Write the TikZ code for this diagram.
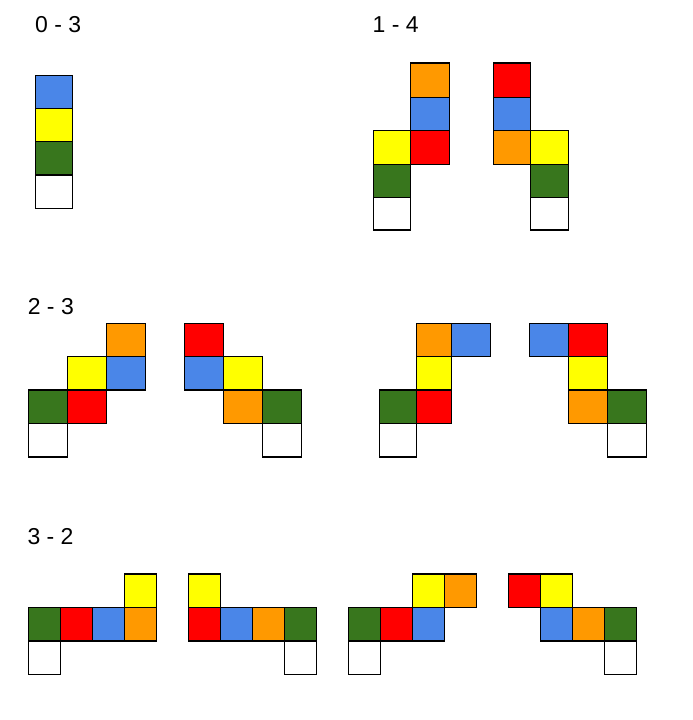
\documentclass[tikz,border=0pt]{standalone}
\usepackage{fontspec}
\setmainfont{Liberation Sans}
\definecolor{cblue}{HTML}{4A86E8}
\definecolor{cyellow}{HTML}{FFFF00}
\definecolor{cgreen}{HTML}{38761D}
\definecolor{cred}{HTML}{FF0000}
\definecolor{corange}{HTML}{FF9900}
\newcommand{\cellbox}[5]{\draw[cellstyle,fill=#5] (#1,#3) rectangle (#2,#4);}
\begin{document}
\begin{tikzpicture}[x=1pt,y=-1pt,
  cellstyle/.style={draw=black,line width=1.1pt,line join=miter},
  lbl/.style={anchor=base west,inner sep=0pt,font=\fontsize{23}{27}\selectfont}]
\useasboundingbox (0,0) rectangle (693,720);
\fill[white] (0,0) rectangle (693,720);
% labels
\node[lbl] (l03) at (35,32.3) {0 - 3};
\node[lbl] (l14) at (372.5,32.3) {1 - 4};
\node[lbl] (l23) at (27.6,314) {2 - 3};
\node[lbl] (l32) at (27.3,544) {3 - 2};
% Group 0-3
\cellbox{35.3}{72.3}{75.3}{108.3}{cblue}
\cellbox{35.3}{72.3}{108.3}{141.3}{cyellow}
\cellbox{35.3}{72.3}{141.3}{175}{cgreen}
\cellbox{35.3}{72.3}{175}{208.3}{white}
% Group 1-4 left
\cellbox{410.3}{449.3}{63}{97.3}{corange}
\cellbox{410.3}{449.3}{97.3}{130.3}{cblue}
\cellbox{410.3}{449.3}{130.3}{164.3}{cred}
\cellbox{373.3}{410.3}{130.3}{164.3}{cyellow}
\cellbox{373.3}{410.3}{164.3}{197.3}{cgreen}
\cellbox{373.3}{410.3}{197.3}{230}{white}
% Group 1-4 right
\cellbox{493.3}{530.3}{63}{97.3}{cred}
\cellbox{493.3}{530.3}{97.3}{130.3}{cblue}
\cellbox{493.3}{530.3}{130.3}{164.3}{corange}
\cellbox{530.3}{568.3}{130.3}{164.3}{cyellow}
\cellbox{530.3}{568.3}{164.3}{197.3}{cgreen}
\cellbox{530.3}{568.3}{197.3}{230}{white}
% Group 2-3 (1)
\cellbox{106.3}{145.3}{323.3}{356.3}{corange}
\cellbox{67.3}{106.3}{356.3}{390}{cyellow}
\cellbox{106.3}{145.3}{356.3}{390}{cblue}
\cellbox{28.3}{67.3}{390}{423.3}{cgreen}
\cellbox{67.3}{106.3}{390}{423.3}{cred}
\cellbox{28.3}{67.3}{423.3}{457}{white}
% Group 2-3 (2)
\cellbox{184.3}{223.3}{323.3}{356.3}{cred}
\cellbox{184.3}{223.3}{356.3}{390}{cblue}
\cellbox{223.3}{262.3}{356.3}{390}{cyellow}
\cellbox{223.3}{262.3}{390}{423.3}{corange}
\cellbox{262.3}{301.3}{390}{423.3}{cgreen}
\cellbox{262.3}{301.3}{423.3}{457}{white}
% Group 2-3 (3)
\cellbox{416.3}{451.3}{323.3}{356.3}{corange}
\cellbox{451.3}{490.3}{323.3}{356.3}{cblue}
\cellbox{416.3}{451.3}{356.3}{390}{cyellow}
\cellbox{379.3}{416.3}{390}{423.3}{cgreen}
\cellbox{416.3}{451.3}{390}{423.3}{cred}
\cellbox{379.3}{416.3}{423.3}{457}{white}
% Group 2-3 (4)
\cellbox{529.3}{568.3}{323.3}{356.3}{cblue}
\cellbox{568.3}{607.3}{323.3}{356.3}{cred}
\cellbox{568.3}{607.3}{356.3}{390}{cyellow}
\cellbox{568.3}{607.3}{390}{423.3}{corange}
\cellbox{607.3}{646.3}{390}{423.3}{cgreen}
\cellbox{607.3}{646.3}{423.3}{457}{white}
% Group 3-2 (1)
\cellbox{124.3}{156.3}{574}{607.3}{cyellow}
\cellbox{28.3}{60.3}{607.3}{641}{cgreen}
\cellbox{60.3}{92.3}{607.3}{641}{cred}
\cellbox{92.3}{124.3}{607.3}{641}{cblue}
\cellbox{124.3}{156.3}{607.3}{641}{corange}
\cellbox{28.3}{60.3}{641}{674.3}{white}
% Group 3-2 (2)
\cellbox{188.3}{220.3}{574}{607.3}{cyellow}
\cellbox{188.3}{220.3}{607.3}{641}{cred}
\cellbox{220.3}{252.3}{607.3}{641}{cblue}
\cellbox{252.3}{284.3}{607.3}{641}{corange}
\cellbox{284.3}{316.3}{607.3}{641}{cgreen}
\cellbox{284.3}{316.3}{641}{674.3}{white}
% Group 3-2 (3)
\cellbox{412.3}{444.3}{574}{607.3}{cyellow}
\cellbox{444.3}{476.3}{574}{607.3}{corange}
\cellbox{348.3}{380.3}{607.3}{641}{cgreen}
\cellbox{380.3}{412.3}{607.3}{641}{cred}
\cellbox{412.3}{444.3}{607.3}{641}{cblue}
\cellbox{348.3}{380.3}{641}{674.3}{white}
% Group 3-2 (4)
\cellbox{508.3}{540.3}{574}{607.3}{cred}
\cellbox{540.3}{572.3}{574}{607.3}{cyellow}
\cellbox{540.3}{572.3}{607.3}{641}{cblue}
\cellbox{572.3}{604.3}{607.3}{641}{corange}
\cellbox{604.3}{636.3}{607.3}{641}{cgreen}
\cellbox{604.3}{636.3}{641}{674.3}{white}
\end{tikzpicture}
\end{document}
